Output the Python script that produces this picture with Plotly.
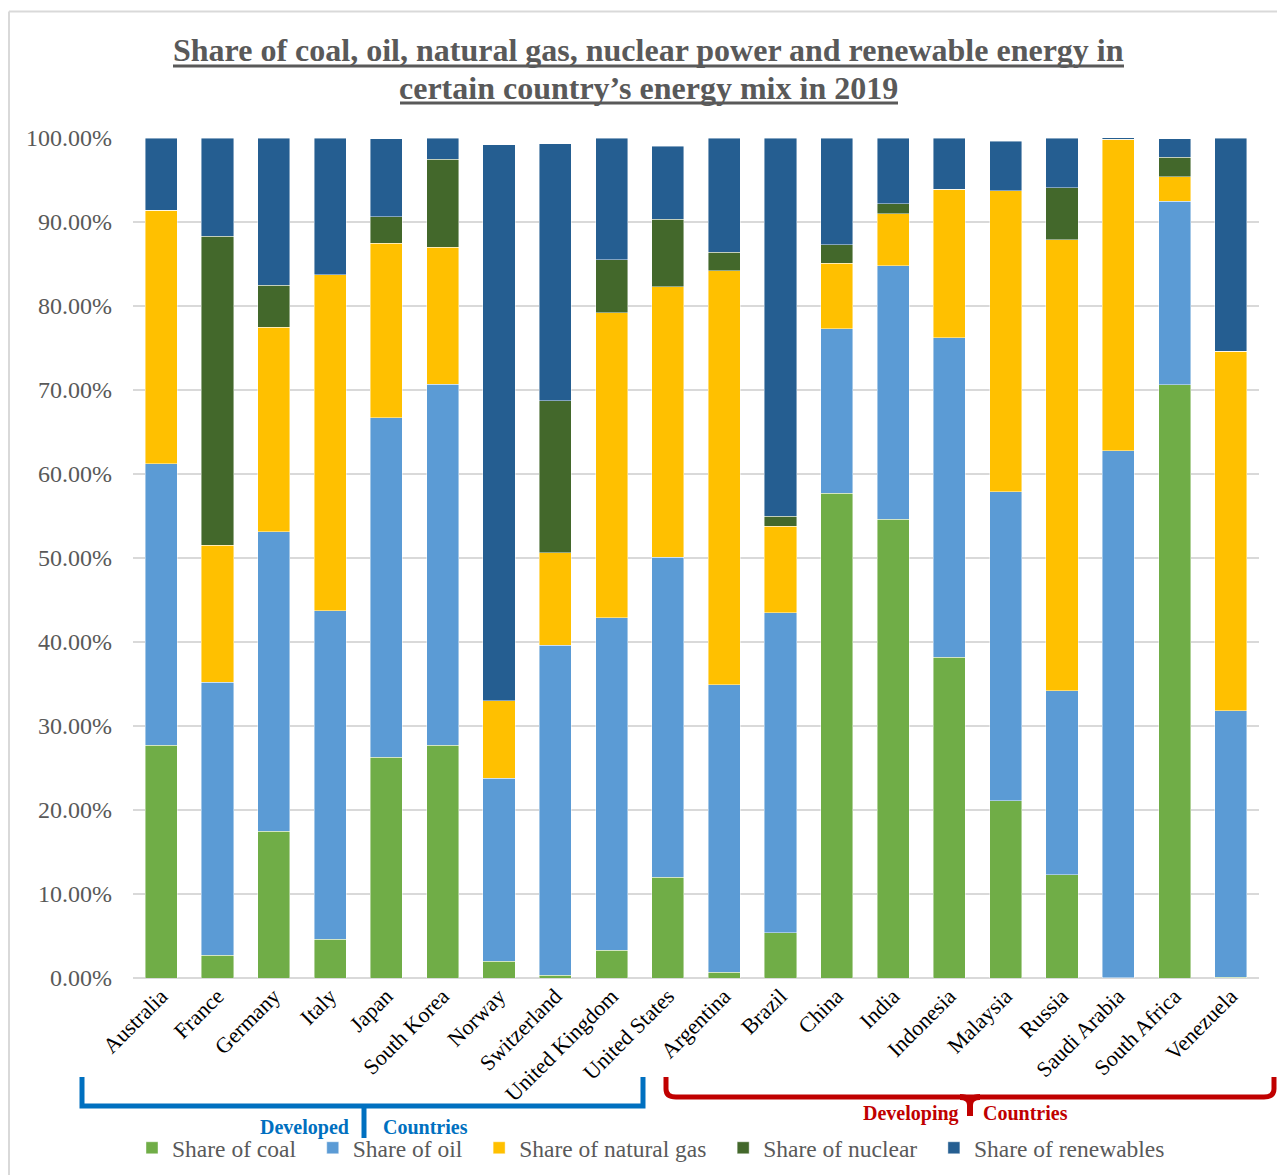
import plotly.graph_objects as go

# Energy mix by country, 2019 (percent of primary energy)
countries = ["Australia", "France", "Germany", "Italy", "Japan", "South Korea",
             "Norway", "Switzerland", "United Kingdom", "United States",
             "Argentina", "Brazil", "China", "India", "Indonesia", "Malaysia",
             "Russia", "Saudi Arabia", "South Africa", "Venezuela"]

coal = [27.7, 2.7, 17.5, 4.6, 26.3, 27.7, 2.0, 0.3, 3.3, 12.0,
        0.7, 5.4, 57.7, 54.6, 38.2, 21.1, 12.3, 0.05, 70.6, 0.1]
oil = [33.5, 32.5, 35.6, 39.1, 40.4, 43.0, 21.8, 39.3, 39.6, 38.1,
       34.2, 38.1, 19.6, 30.2, 38.0, 36.8, 21.9, 62.7, 21.9, 31.7]
natural_gas = [30.2, 16.3, 24.4, 40.0, 20.8, 16.3, 9.2, 11.0, 36.3, 32.2,
               49.3, 10.3, 7.8, 6.2, 17.7, 35.8, 53.7, 37.1, 2.9, 42.8]
nuclear = [0.0, 36.8, 5.0, 0.0, 3.1, 10.5, 0.0, 18.1, 6.3, 8.0,
           2.2, 1.2, 2.2, 1.2, 0.0, 0.0, 6.2, 0.0, 2.3, 0.0]
renewables = [8.6, 11.7, 17.5, 16.3, 9.3, 2.5, 66.2, 30.6, 14.5, 8.7,
              13.6, 45.0, 12.7, 7.8, 6.1, 5.9, 5.9, 0.2, 2.2, 25.4]

series = [
    ("Share of coal", coal, "#70AD47"),
    ("Share of oil", oil, "#5B9BD5"),
    ("Share of natural gas", natural_gas, "#FFC000"),
    ("Share of nuclear", nuclear, "#43682B"),
    ("Share of renewables", renewables, "#255E91"),
]

title_lines = ["Share of coal, oil, natural gas, nuclear power and renewable energy in",
               "certain country\u2019s energy mix in 2019"]

W, H = 1277, 1175
L, R, T, B = 133, 18, 138, 197
PW, PH = W - L - R, H - T - B

SERIF = "Liberation Serif, Times New Roman, serif"
GREY = "#595959"
BLUE = "#0070C0"
RED = "#C00000"


def px(x):
    return (x - L) / PW


def py(y):
    return (H - B - y) / PH


fig = go.Figure()
for name, vals, color in series:
    fig.add_trace(go.Bar(
        x=countries, y=vals, name=name + "\u00a0\u00a0",
        marker=dict(color=color, line=dict(color="rgba(255,255,255,0.55)", width=0.8)),
    ))

shapes = []
# outer chart frame (top and left edges)
shapes.append(dict(type="line", xref="paper", yref="paper",
                   x0=px(9), x1=px(W + 5), y0=py(11.5), y1=py(11.5),
                   line=dict(color="#D9D9D9", width=2)))
shapes.append(dict(type="line", xref="paper", yref="paper",
                   x0=px(9), x1=px(9), y0=py(11.5), y1=py(H + 5),
                   line=dict(color="#D9D9D9", width=2)))

# heavy underline beneath each title line
for x0, x1, y in [(173, 1124, 66), (400, 898, 103)]:
    shapes.append(dict(type="line", xref="paper", yref="paper",
                       x0=px(x0), x1=px(x1), y0=py(y), y1=py(y),
                       line=dict(color=GREY, width=3)))


def path(points):
    segs = []
    for cmd, *pts in points:
        coords = " ".join(f"{px(a):.5f},{py(b):.5f}" for a, b in pts)
        segs.append(f"{cmd} {coords}")
    return " ".join(segs)


# developed countries bracket
shapes.append(dict(type="path", xref="paper", yref="paper",
                   path=path([("M", (82, 1077)), ("L", (82, 1106)),
                              ("L", (643, 1106)), ("L", (643, 1077))]),
                   line=dict(color=BLUE, width=5)))
shapes.append(dict(type="line", xref="paper", yref="paper",
                   x0=px(364), x1=px(364), y0=py(1106), y1=py(1138),
                   line=dict(color=BLUE, width=5)))

# developing countries bracket
shapes.append(dict(type="path", xref="paper", yref="paper",
                   path=path([("M", (666, 1077)), ("L", (666, 1089)),
                              ("Q", (666, 1097), (676, 1097)),
                              ("L", (1264, 1097)),
                              ("Q", (1274, 1097), (1274, 1089)),
                              ("L", (1274, 1077))]),
                   line=dict(color=RED, width=5)))
shapes.append(dict(type="path", xref="paper", yref="paper",
                   path=path([("M", (960, 1097)), ("Q", (970, 1097), (970, 1105)),
                              ("L", (970, 1116)), ("L", (970, 1105)),
                              ("Q", (970, 1097), (980, 1097))]),
                   line=dict(color=RED, width=6)))

annotations = []
for line_text, yc in zip(title_lines, [50, 88]):
    annotations.append(dict(text=f"<b>{line_text}</b>", xref="paper", yref="paper",
                            x=px(648.5), y=py(yc), xanchor="center", yanchor="middle",
                            showarrow=False,
                            font=dict(family=SERIF, size=32, color=GREY)))

annotations += [
    dict(text="<b>Developed</b>", xref="paper", yref="paper", x=px(351), y=py(1127),
         xanchor="right", yanchor="middle", showarrow=False,
         font=dict(family=SERIF, size=20, color=BLUE)),
    dict(text="<b>Countries</b>", xref="paper", yref="paper", x=px(381), y=py(1127),
         xanchor="left", yanchor="middle", showarrow=False,
         font=dict(family=SERIF, size=20, color=BLUE)),
    dict(text="<b>Developing</b>", xref="paper", yref="paper", x=px(961), y=py(1113),
         xanchor="right", yanchor="middle", showarrow=False,
         font=dict(family=SERIF, size=20, color=RED)),
    dict(text="<b>Countries</b>", xref="paper", yref="paper", x=px(981), y=py(1113),
         xanchor="left", yanchor="middle", showarrow=False,
         font=dict(family=SERIF, size=20, color=RED)),
]

fig.update_layout(
    width=W, height=H,
    margin=dict(l=L, r=R, t=T, b=B, autoexpand=False),
    barmode="stack", bargap=0.43,
    plot_bgcolor="white", paper_bgcolor="white",
    showlegend=True,
    legend=dict(orientation="h", x=px(132), y=py(1148),
                xanchor="left", yanchor="middle",
                font=dict(family=SERIF, size=23.5, color=GREY),
                traceorder="normal", bgcolor="rgba(0,0,0,0)"),
    shapes=shapes,
    annotations=annotations,
    xaxis=dict(tickangle=-45, automargin=False, showgrid=False,
               tickfont=dict(family=SERIF, size=22, color="black"),
               showline=False, ticks=""),
    yaxis=dict(range=[0, 100], dtick=10, tickformat=".2f", ticksuffix="%",
               automargin=False, showgrid=True, gridcolor="#D9D9D9", gridwidth=2,
               zeroline=True, zerolinecolor="#D9D9D9", zerolinewidth=2,
               showline=False, ticks="", ticklabelstandoff=20,
               tickfont=dict(family=SERIF, size=24, color=GREY)),
)

fig.write_html("out.html")
